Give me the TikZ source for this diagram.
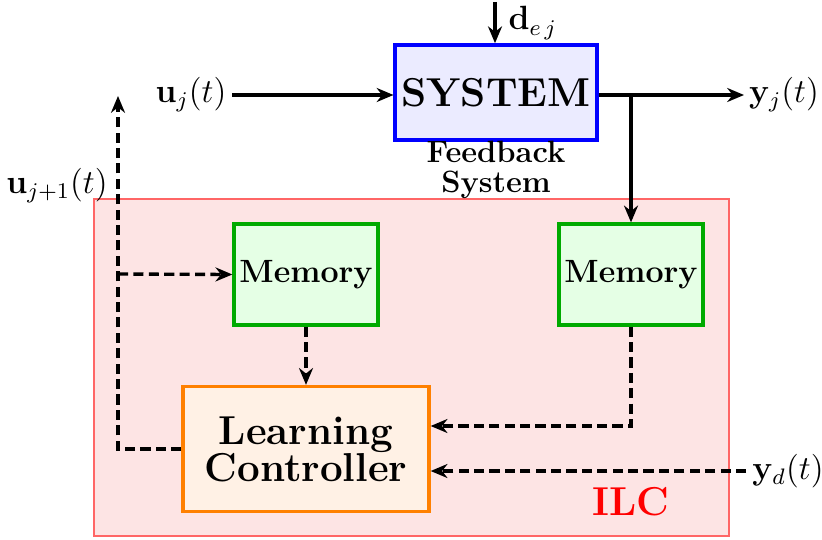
\documentclass[tikz,border=0pt]{standalone}
\usetikzlibrary{arrows.meta}
\definecolor{sysfill}{RGB}{235,235,255}
\definecolor{memfill}{RGB}{229,255,229}
\definecolor{memdraw}{RGB}{0,170,0}
\definecolor{lcfill}{RGB}{255,241,229}
\definecolor{lcdraw}{RGB}{255,128,0}
\definecolor{ilcfill}{RGB}{253,228,228}
\definecolor{ilcdraw}{RGB}{255,102,102}
\begin{document}
\begin{tikzpicture}[x=0.357pt,y=-0.357pt,
  sysbox/.style={draw=blue,fill=sysfill,line width=1.2pt,minimum width=72pt,minimum height=34pt,inner sep=0pt,font=\Large\bfseries},
  membox/.style={draw=memdraw,fill=memfill,line width=1.2pt,minimum width=51.4pt,minimum height=36pt,inner sep=0pt,font=\fontsize{11.5}{13}\selectfont\bfseries},
  lcbox/.style={draw=lcdraw,fill=lcfill,line width=1.2pt,minimum width=87.8pt,minimum height=44.6pt,inner sep=0pt,align=center,font=\fontsize{14.4}{13.2}\selectfont\bfseries},
  sig/.style={line width=1.2pt,-{Stealth[length=6pt,width=5pt]}},
  dsig/.style={line width=1.2pt,dash pattern=on 3.6pt off 1.9pt,-{Stealth[length=6pt,width=5pt]}},
  lbl/.style={inner sep=0pt,font=\fontsize{11.5}{13}\selectfont}]
\useasboundingbox (0,0) rectangle (822,539);
% ILC region
\draw[draw=ilcdraw,fill=ilcfill,line width=0.5pt] (94,199) rectangle (729,536);
\node[inner sep=0pt,text=red,font=\Large\bfseries] (ilc) at (631,502) {ILC};
% blocks
\node[sysbox] (sys) at (496,92.5) {SYSTEM};
\node[inner sep=0pt,align=center,font=\fontsize{11}{10.7}\selectfont\bfseries] (fb) at (496,170) {Feedback\\System};
\node[membox] (mem1) at (306,274.5) {Memory};
\node[membox] (mem2) at (631,274.5) {Memory};
\node[lcbox] (lc) at (306,449) {Learning\\Controller};
% labels
\coordinate (dtop) at (495,2);
\node[lbl,anchor=west] (dej) at (508,23) {$\mathbf{d}_{e\,j}$};
\node[lbl] (uj) at (191,95) {$\mathbf{u}_j(t)$};
\node[lbl] (yj) at (784,95) {$\mathbf{y}_j(t)$};
\node[lbl] (yd) at (788,471) {$\mathbf{y}_d(t)$};
\node[lbl] (uj1) at (57,186) {$\mathbf{u}_{j+1}(t)$};
\coordinate (ujend) at (232,95);
\coordinate (yjend) at (744,95);
\coordinate (br) at (631,95);
\coordinate (ydstart) at (746,471);
\coordinate (c1) at (631,426);
\coordinate (l1) at (118,449);
\coordinate (l2) at (118,274);
\coordinate (l3) at (118,96);
% solid signals
\draw[sig] (dtop) -- (sys.north-|dtop);
\draw[sig] (ujend) -- (sys.west|-ujend);
\draw[sig] (sys.east|-yjend) -- (yjend);
\draw[sig] (br) -- (mem2.north);
% dashed signals
\draw[dsig] (mem1.south) -- (lc.north);
\draw[dsig] (mem2.south) -- (c1) -- (lc.east|-c1);
\draw[dsig] (ydstart) -- (lc.east|-ydstart);
\draw[dsig] (lc.west|-l1) -- (l1) -- (l3);
\draw[dsig] (l2) -- (mem1.west);
\end{tikzpicture}
\end{document}
